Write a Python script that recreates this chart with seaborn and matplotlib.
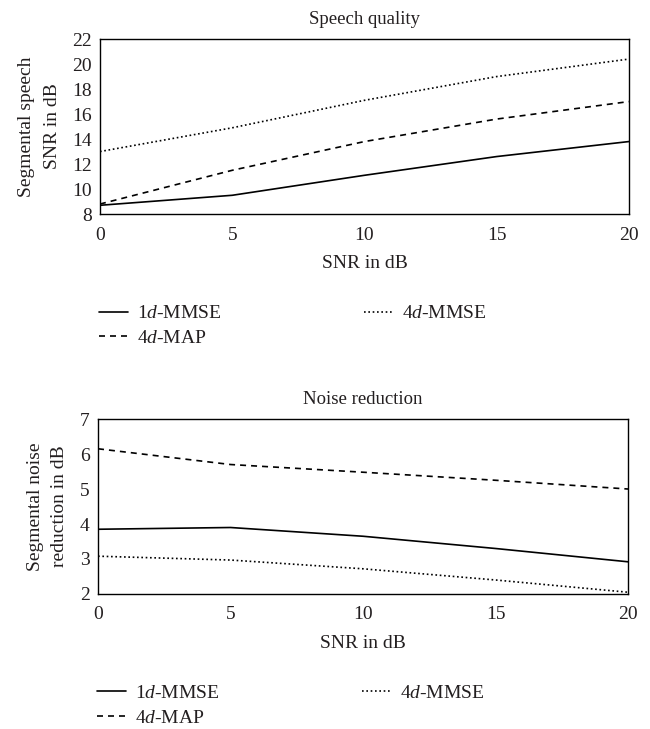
import matplotlib
matplotlib.use("Agg")
import matplotlib.pyplot as plt
import pandas as pd
import seaborn as sns

snr = [0, 5, 10, 15, 20]
methods = ["1$d$-MMSE", "4$d$-MAP", "4$d$-MMSE"]

# speech quality (segmental speech SNR in dB)
seg_snr_1d_mmse = [8.7, 9.5, 11.1, 12.6, 13.8]
seg_snr_4d_map = [8.8, 11.5, 13.8, 15.6, 17.0]
seg_snr_4d_mmse = [13.0, 14.9, 17.1, 19.0, 20.4]

# noise reduction (segmental noise reduction in dB)
nr_1d_mmse = [3.85, 3.9, 3.65, 3.3, 2.92]
nr_4d_map = [6.15, 5.7, 5.48, 5.25, 5.0]
nr_4d_mmse = [3.08, 2.97, 2.72, 2.4, 2.05]


def long_df(series):
    rows = []
    for name, vals in zip(methods, series):
        for x, v in zip(snr, vals):
            rows.append({"snr": x, "value": v, "method": name})
    return pd.DataFrame(rows)


sns.set_theme(style="white")
plt.rcParams['font.family'] = ['Liberation Serif', 'DejaVu Serif']
plt.rcParams['mathtext.fontset'] = 'custom'
plt.rcParams['mathtext.it'] = 'Liberation Serif:italic'
plt.rcParams['mathtext.rm'] = 'Liberation Serif'
TXT = "#231f20"
FS = 14

fig = plt.figure(figsize=(6.5, 7.29), dpi=100)
ax1 = fig.add_axes([0.1538, 0.7064, 0.8138, 0.240])
ax2 = fig.add_axes([0.1508, 0.1852, 0.8154, 0.240])

dashes = {methods[0]: "", methods[1]: (3.6, 3), methods[2]: (1, 1.6)}

panels = [
    (ax1, [seg_snr_1d_mmse, seg_snr_4d_map, seg_snr_4d_mmse], "Speech quality",
     "Segmental speech\nSNR in dB", (8, 22), range(8, 23, 2),
     (0.126, 0.606), (-0.074, 1.65)),
    (ax2, [nr_1d_mmse, nr_4d_map, nr_4d_mmse], "Noise reduction",
     "Segmental noise\nreduction in dB", (2, 7), range(2, 8),
     (0.123, 0.085), (-0.056, 1.55)),
]

for ax, series, title, ylabel, ylim, yticks, leg_pos, ylab in panels:
    df = long_df(series)
    sns.lineplot(data=df, x="snr", y="value", style="method", dashes=dashes,
                 color="black", linewidth=1.2, ax=ax, legend=True)
    ax.set_xlim(0, 20)
    ax.set_ylim(*ylim)
    ax.set_xticks(snr)
    ax.set_yticks(list(yticks))
    ax.set_title(title, fontsize=FS - 0.5, color=TXT, pad=11)
    ax.set_xlabel("SNR in dB", fontsize=FS, color=TXT, labelpad=8)
    ax.set_ylabel(ylabel, fontsize=FS, color=TXT, linespacing=ylab[1])
    ax.yaxis.set_label_coords(ylab[0], 0.5)
    ax.tick_params(axis="x", direction="in", length=4, labelsize=FS,
                   colors="black", labelcolor=TXT, pad=9)
    ax.tick_params(axis="y", direction="in", length=3.5, labelsize=FS,
                   colors="black", labelcolor=TXT, pad=6)
    for sp in ax.spines.values():
        sp.set_color("black")
        sp.set_linewidth(1.0)
    handles, labels = ax.get_legend_handles_labels()
    ax.get_legend().remove()
    fig.legend(handles, labels, loc="upper left", bbox_to_anchor=leg_pos,
               ncol=2, frameon=False, fontsize=FS, handlelength=1.45,
               handletextpad=0.5, columnspacing=7.3, labelspacing=0.35,
               labelcolor=TXT)

fig.savefig("out.png", dpi=100)
